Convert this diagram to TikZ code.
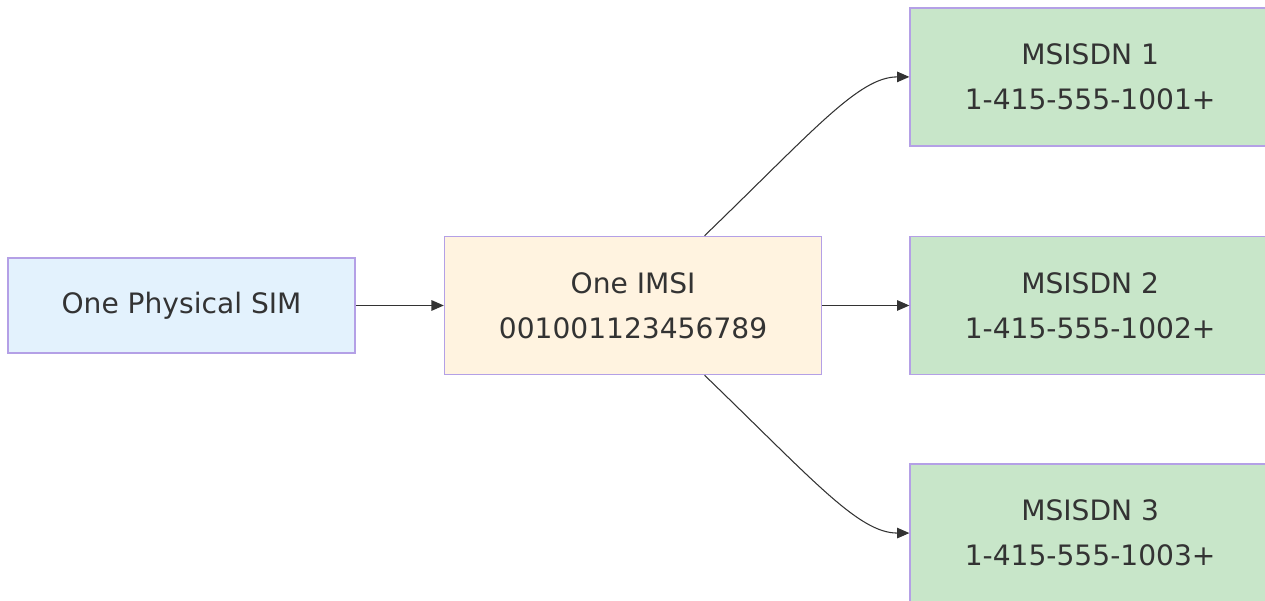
\documentclass[tikz,border=0pt]{standalone}
\usepackage{fontspec}
\setmainfont{DejaVu Sans}
\usepackage{xcolor}
\usetikzlibrary{positioning, arrows.meta}
\definecolor{edgeline}{RGB}{51,51,51}
\definecolor{boxline}{RGB}{180,160,230}
\definecolor{simbg}{RGB}{227,242,253}
\definecolor{imsibg}{RGB}{255,243,224}
\definecolor{msisdnbg}{RGB}{200,230,201}
\tikzset{
  box/.style={
    rectangle, draw=boxline, line width=0.9pt, align=center,
    text=edgeline, font=\fontsize{16}{25.5}\selectfont, inner sep=0pt
  },
  simbox/.style={box, fill=simbg, minimum width=6.94cm, minimum height=1.9cm},
  imsibox/.style={box, fill=imsibg, minimum width=7.54cm, minimum height=2.76cm},
  numbox/.style={box, fill=msisdnbg, minimum width=7.2cm, minimum height=2.76cm},
  every edge/.style={draw=edgeline, line width=0.6pt,
    -{Triangle[length=7pt,width=6pt]}},
}
\begin{document}
\begin{tikzpicture}
  \useasboundingbox (0,0) rectangle (25.3,12.02);
  \node[simbox] (SIM) at (3.63,5.91) {One Physical SIM};
  \node[imsibox, right=1.76cm of SIM] (IMSI) {One IMSI\\001001123456789};
  \node[numbox, right=1.74cm of IMSI] (NUM2) {MSISDN 2\\1-415-555-1002+};
  \node[numbox, above=1.78cm of NUM2] (NUM1) {MSISDN 1\\1-415-555-1001+};
  \node[numbox, below=1.76cm of NUM2] (NUM3) {MSISDN 3\\1-415-555-1003+};

  \coordinate (IMSIup) at ([xshift=1.43cm]IMSI.north);
  \coordinate (IMSIdown) at ([xshift=1.43cm]IMSI.south);

  \path (SIM) edge (IMSI)
        (IMSI) edge (NUM2)
        (IMSIup) edge[out=44, in=180, out looseness=1.5, in looseness=0.5] (NUM1.west)
        (IMSIdown) edge[out=-44, in=180, out looseness=1.5, in looseness=0.5] (NUM3.west);
\end{tikzpicture}
\end{document}
